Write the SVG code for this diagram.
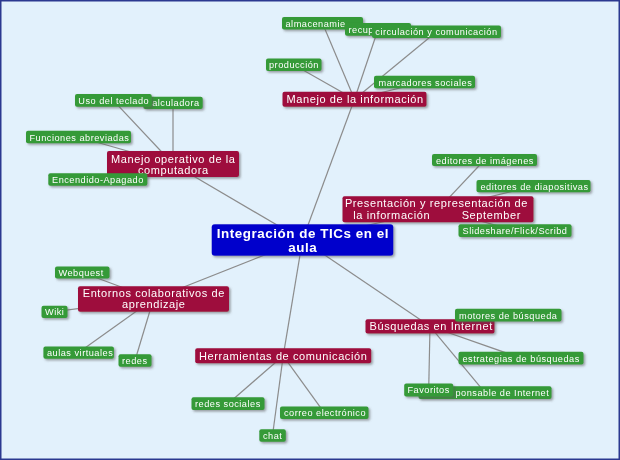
<svg xmlns="http://www.w3.org/2000/svg" width="620" height="460" viewBox="0 0 620 460">
<defs>
<filter id="sh" x="-10%" y="-30%" width="130%" height="180%">
<feDropShadow dx="1.6" dy="1.6" stdDeviation="0.9" flood-color="#555" flood-opacity="0.55"/>
</filter>
<style>
.g rect{fill:#359a38;}
.r rect{fill:#9e0f3d;}
.c rect{fill:#0606cc;}
.g,.r,.c{filter:url(#sh);}
text{font-family:"Liberation Sans",Arial,sans-serif;fill:#fff;}
.g text{font-size:9.2px;letter-spacing:0.5px;}
.r text{font-size:11px;letter-spacing:0.6px;}
.c text{font-size:13.4px;font-weight:bold;letter-spacing:0.55px;}
.m{text-anchor:middle;}
#edges line{stroke:#8c8c8c;stroke-width:1.2;}
</style>
</defs>
<rect x="0" y="0" width="620" height="460" fill="#e2f1fc"/>
<rect x="0.75" y="0.75" width="618.5" height="458.5" fill="none" stroke="#2b3990" stroke-width="1.5"/>
<g id="edges">
<line x1="302.5" y1="240" x2="354.5" y2="99.2"/>
<line x1="354.5" y1="99.2" x2="322.5" y2="23.2"/>
<line x1="354.5" y1="99.2" x2="378" y2="29.5"/>
<line x1="354.5" y1="99.2" x2="436.5" y2="31.7"/>
<line x1="354.5" y1="99.2" x2="293.7" y2="64.7"/>
<line x1="354.5" y1="99.2" x2="424.5" y2="82"/>
<line x1="302.5" y1="240" x2="173" y2="164"/>
<line x1="173" y1="164" x2="113.3" y2="100.3"/>
<line x1="173" y1="164" x2="173" y2="102.8"/>
<line x1="173" y1="164" x2="78.5" y2="137"/>
<line x1="173" y1="164" x2="97.8" y2="179.5"/>
<line x1="302.5" y1="240" x2="438" y2="209.3"/>
<line x1="438" y1="209.3" x2="484.5" y2="160"/>
<line x1="438" y1="209.3" x2="533.5" y2="186.2"/>
<line x1="438" y1="209.3" x2="515" y2="230.6"/>
<line x1="302.5" y1="240" x2="153.5" y2="299"/>
<line x1="153.5" y1="299" x2="82.3" y2="272.5"/>
<line x1="153.5" y1="299" x2="54.5" y2="311.7"/>
<line x1="153.5" y1="299" x2="78.6" y2="352.6"/>
<line x1="153.5" y1="299" x2="135" y2="360.5"/>
<line x1="302.5" y1="240" x2="283.2" y2="355.8"/>
<line x1="283.2" y1="355.8" x2="228" y2="403.7"/>
<line x1="283.2" y1="355.8" x2="324.2" y2="412.7"/>
<line x1="283.2" y1="355.8" x2="272.5" y2="435.5"/>
<line x1="302.5" y1="240" x2="430" y2="326.3"/>
<line x1="430" y1="326.3" x2="508.2" y2="315.1"/>
<line x1="430" y1="326.3" x2="521" y2="358.1"/>
<line x1="430" y1="326.3" x2="485" y2="392.7"/>
<line x1="430" y1="326.3" x2="428.7" y2="390"/>
</g>

<g id="n-almacenamiento" class="g"><rect x="282" y="17" width="81" height="12.5" rx="2"/><text x="285.5" y="26.8">almacenamie</text></g>
<g id="n-recuperacion" class="g"><rect x="345" y="23" width="66" height="12.8" rx="2"/><text x="348.5" y="32.8">recup</text></g>
<g id="n-circulacion" class="g"><rect x="372" y="25.5" width="129" height="12.6" rx="2"/><text x="375.3" y="35.4">circulación y comunicación</text></g>
<g id="n-produccion" class="g"><rect x="266" y="58.5" width="55.5" height="12.5" rx="2"/><text x="269" y="68.3">producción</text></g>
<g id="n-marcadores" class="g"><rect x="374" y="75.7" width="101" height="12.6" rx="2"/><text x="378.5" y="85.5">marcadores sociales</text></g>
<g id="n-manejo-info" class="r"><rect x="282.5" y="91.7" width="144" height="15" rx="2"/><text x="286.5" y="103.2">Manejo de la información</text></g>

<g id="n-calculadora" class="g"><rect x="143.3" y="96.7" width="59.4" height="12.3" rx="2"/><text x="152.2" y="106.3">alculadora</text></g>
<g id="n-teclado" class="g"><rect x="75" y="94" width="76.7" height="12.7" rx="2"/><text x="78.3" y="103.8">Uso del teclado</text></g>
<g id="n-funciones" class="g"><rect x="26" y="130.7" width="105" height="12.6" rx="2"/><text x="29.5" y="140.5">Funciones abreviadas</text></g>
<g id="n-manejo-op" class="r"><rect x="107" y="151" width="132" height="26" rx="2"/><text class="m"><tspan x="173.3" y="162.6">Manejo operativo de la</tspan><tspan x="173.3" y="174">computadora</tspan></text></g>
<g id="n-encendido" class="g"><rect x="48.3" y="173.3" width="99" height="12.4" rx="2"/><text x="52" y="183.1">Encendido-Apagado</text></g>

<g id="n-presentacion" class="r"><rect x="342.5" y="196.3" width="191" height="26" rx="2"/><text><tspan class="m" x="438.3" y="207.4">Presentación y representación de</tspan> <tspan x="353.3" y="219">la información</tspan> <tspan x="461.7" y="219">September</tspan></text></g>
<g id="n-imagenes" class="g"><rect x="432" y="154" width="105" height="12" rx="2"/><text x="436" y="163.5">editores de imágenes</text></g>
<g id="n-diapositivas" class="g"><rect x="476.5" y="180" width="114" height="12.3" rx="2"/><text x="480.5" y="189.6">editores de diapositivas</text></g>
<g id="n-slideshare" class="g"><rect x="458.5" y="224.3" width="113" height="12.6" rx="2"/><text x="462.5" y="234.1">Slideshare/Flick/Scribd</text></g>

<g id="n-central" class="c"><rect x="211.7" y="224.3" width="181.6" height="31.4" rx="3"/><text class="m"><tspan x="302.8" y="238.2">Integración de TICs en el</tspan><tspan x="302.8" y="251.8">aula</tspan></text></g>

<g id="n-entornos" class="r"><rect x="78" y="286.3" width="151" height="25.4" rx="2"/><text class="m"><tspan x="153.8" y="297.3">Entornos colaborativos de</tspan><tspan x="153.8" y="307.8">aprendizaje</tspan></text></g>
<g id="n-webquest" class="g"><rect x="55" y="266.5" width="54.5" height="12" rx="2"/><text x="58.5" y="276">Webquest</text></g>
<g id="n-wiki" class="g"><rect x="41.5" y="305.7" width="26" height="12.2" rx="2"/><text x="45" y="315.3">Wiki</text></g>
<g id="n-aulas" class="g"><rect x="43.4" y="346.4" width="70.5" height="12.4" rx="2"/><text x="47" y="356.1">aulas virtuales</text></g>
<g id="n-redes" class="g"><rect x="118.5" y="354.2" width="33" height="12.5" rx="2"/><text x="122" y="364">redes</text></g>

<g id="n-herramientas" class="r"><rect x="195.2" y="348.3" width="176" height="15" rx="2"/><text x="199" y="359.7">Herramientas de comunicación</text></g>
<g id="n-redes-sociales" class="g"><rect x="191.5" y="397.3" width="73" height="12.8" rx="2"/><text x="195" y="407.2">redes sociales</text></g>
<g id="n-correo" class="g"><rect x="280" y="406.5" width="88.5" height="12.5" rx="2"/><text x="284" y="416.3">correo electrónico</text></g>
<g id="n-chat" class="g"><rect x="259.3" y="429.3" width="26.5" height="12.4" rx="2"/><text x="263" y="439.1">chat</text></g>

<g id="n-busquedas" class="r"><rect x="365.5" y="319.2" width="129" height="14.3" rx="2"/><text x="369.5" y="330.2">Búsquedas en Internet</text></g>
<g id="n-motores" class="g"><rect x="455" y="308.7" width="106.5" height="12.8" rx="2"/><text x="459" y="318.6">motores de búsqueda</text></g>
<g id="n-estrategias" class="g"><rect x="458.5" y="351.7" width="125" height="12.8" rx="2"/><text x="462.5" y="361.6">estrategias de búsquedas</text></g>
<g id="n-uso-responsable" class="g"><rect x="418.5" y="386.3" width="133" height="12.8" rx="2"/><text x="455.5" y="396.2">ponsable de Internet</text></g>
<g id="n-favoritos" class="g"><rect x="404.2" y="383.5" width="49" height="13" rx="2"/><text x="407.5" y="393.4">Favoritos</text></g>
</svg>
